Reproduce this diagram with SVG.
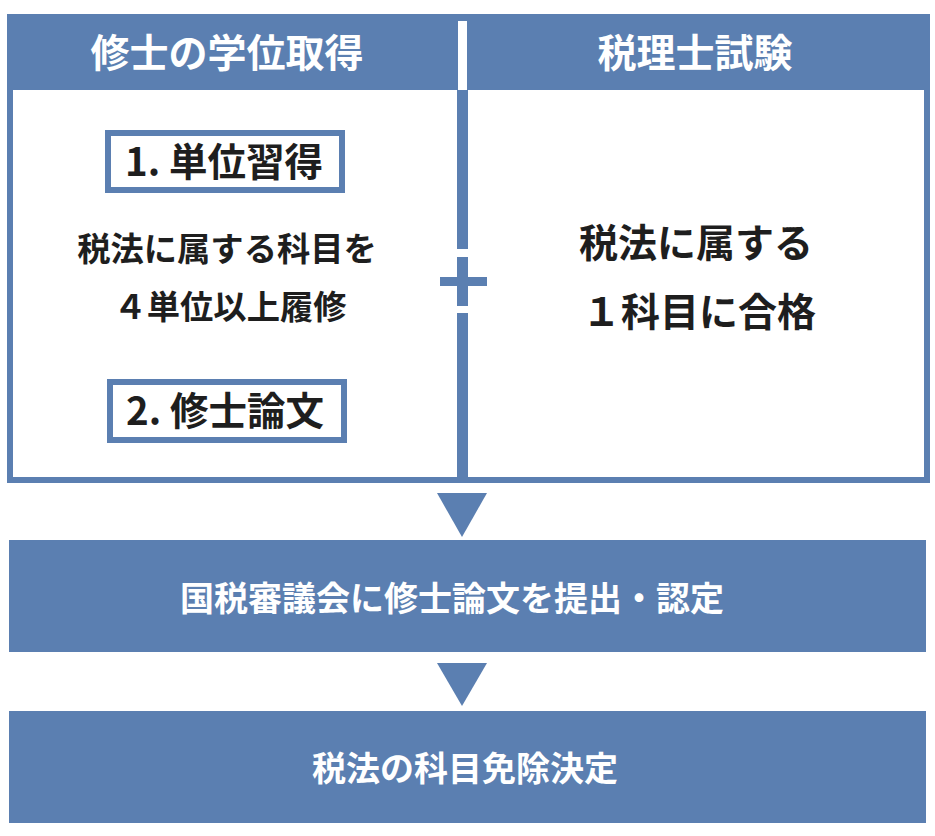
<svg xmlns="http://www.w3.org/2000/svg" width="935" height="836" viewBox="0 0 935 836">
<style>
.b{fill:#5b7fb1}
.t{font-family:"Noto Sans CJK JP","Noto Sans",sans-serif;font-weight:700;text-anchor:middle}
.w{fill:#ffffff}
.k{fill:#1e1e1e}
</style>
<rect width="935" height="836" fill="#ffffff"/>
<g id="frame">
<rect x="10" y="17" width="917" height="463" fill="#ffffff" stroke="#5b7fb1" stroke-width="6"/>
<rect class="b" x="7" y="14" width="923" height="76"/>
<rect class="w" x="458" y="21" width="9" height="69"/>
<rect class="b" x="457" y="90" width="11" height="159"/>
<rect class="b" x="457" y="313" width="11" height="167"/>
</g>
<g id="header-left"><text class="t w" x="227" y="67" font-size="39">修士の学位取得</text></g>
<g id="header-right"><text class="t w" x="695" y="67" font-size="39">税理士試験</text></g>
<g id="step1">
<rect x="108" y="133" width="234" height="57" fill="#ffffff" stroke="#5b7fb1" stroke-width="6"/>
<text class="t k" x="224" y="176" font-size="38.5">1. 単位習得</text>
</g>
<g id="left-text">
<text class="t k" x="227" y="260.5" font-size="33.3">税法に属する科目を</text>
<text class="t k" x="230" y="319" font-size="33.3">４単位以上履修</text>
</g>
<g id="step2">
<rect x="110" y="382" width="234" height="58" fill="#ffffff" stroke="#5b7fb1" stroke-width="6"/>
<text class="t k" x="225" y="424.5" font-size="38.5">2. 修士論文</text>
</g>
<g id="plus">
<rect class="b" x="457" y="257" width="11" height="49"/>
<rect class="b" x="440" y="277" width="47" height="9"/>
</g>
<g id="right-text">
<text class="t k" x="696" y="256.5" font-size="39">税法に属する</text>
<text class="t k" x="699" y="325.5" font-size="39">１科目に合格</text>
</g>
<g id="connectors">
<polygon class="b" points="437,493 487,493 462,537"/>
<polygon class="b" points="437,663 487,663 462,706"/>
</g>
<g id="submit">
<rect class="b" x="9" y="540" width="917" height="112"/>
<text class="t w" x="452" y="611" font-size="34">国税審議会に修士論文を提出・認定</text>
</g>
<g id="exempt">
<rect class="b" x="9" y="711" width="917" height="112"/>
<text class="t w" x="465" y="781" font-size="34">税法の科目免除決定</text>
</g>
</svg>
